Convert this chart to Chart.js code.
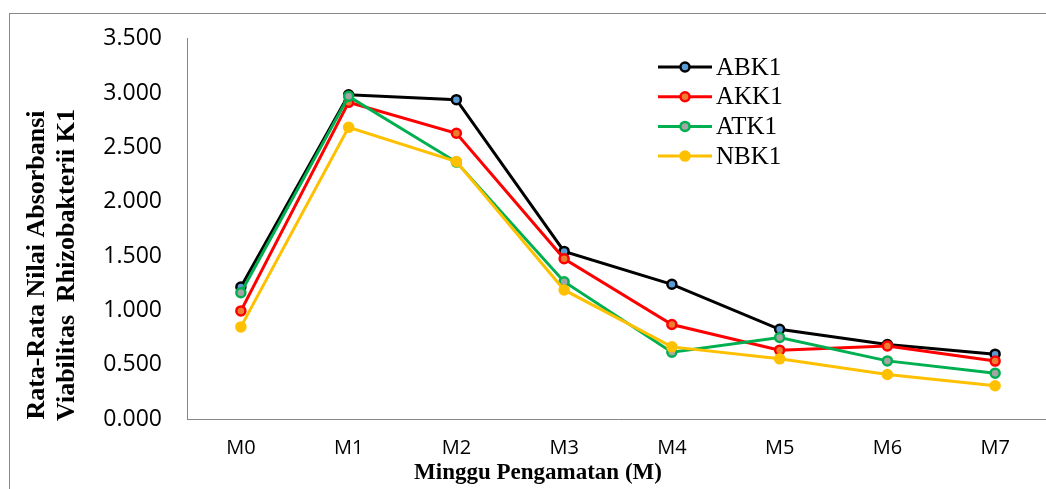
<!DOCTYPE html>
<html>
<head>
<meta charset="utf-8">
<script src="https://cdn.jsdelivr.net/npm/chart.js@4"></script>
<style>
  html, body { margin: 0; padding: 0; background: #fff; overflow: hidden; }
  #wrap { width: 1046px; height: 489px; overflow: hidden; }
</style>
</head>
<body>
<div id="wrap"><canvas id="myChart" width="1060" height="489"></canvas></div>
<script>
// Data
const categories = ["M0", "M1", "M2", "M3", "M4", "M5", "M6", "M7"];
const abk1 = [1.215, 2.985, 2.94, 1.543, 1.24, 0.826, 0.686, 0.597];
const akk1 = [0.995, 2.915, 2.63, 1.475, 0.87, 0.634, 0.673, 0.533];
const atk1 = [1.163, 2.97, 2.365, 1.264, 0.615, 0.75, 0.535, 0.422];
const nbk1 = [0.848, 2.685, 2.37, 1.188, 0.664, 0.554, 0.41, 0.306];
const seriesNames = ["ABK1", "AKK1", "ATK1", "NBK1"];
const yTicks = [0, 0.5, 1, 1.5, 2, 2.5, 3, 3.5];

const axisGray = "#868686";

function makeDataset(label, data, line, fill, order) {
  return {
    label: label,
    data: data,
    borderColor: line,
    backgroundColor: fill,
    pointBackgroundColor: fill,
    pointBorderColor: line,
    borderWidth: 3,
    pointRadius: 4.5,
    pointBorderWidth: 2.5,
    tension: 0,
    order: order,
  };
}

// Frame luar
const framePlugin = {
  id: "frame",
  beforeDraw(chart) {
    const ctx = chart.ctx;
    ctx.save();
    ctx.strokeStyle = "#898989";
    ctx.lineWidth = 1;
    ctx.strokeRect(9.5, 13.5, 2000, 2000);
    ctx.restore();
  },
};

// Judul sumbu dan legenda
const labelPlugin = {
  id: "labels",
  afterDraw(chart) {
    const ctx = chart.ctx;
    ctx.save();
    ctx.fillStyle = "#000";
    // judul sumbu Y (dua baris)
    ctx.font = "bold 26px 'Liberation Serif'";
    ctx.textAlign = "center";
    ctx.textBaseline = "middle";
    ctx.save();
    ctx.translate(37, 265);
    ctx.rotate(-Math.PI / 2);
    ctx.fillText("Rata-Rata Nilai Absorbansi", 0, 0);
    ctx.restore();
    ctx.save();
    ctx.translate(67, 265);
    ctx.rotate(-Math.PI / 2);
    ctx.fillText("Viabilitas  Rhizobakterii K1", 0, 0);
    ctx.restore();
    // judul sumbu X
    ctx.font = "bold 23px 'Liberation Serif'";
    ctx.textBaseline = "alphabetic";
    ctx.fillText("Minggu Pengamatan (M)", 538, 479);
    // legenda
    ctx.font = "25px 'Liberation Serif'";
    ctx.textAlign = "left";
    ctx.textBaseline = "middle";
    chart.data.datasets.forEach((ds, i) => {
      const y = 67 + i * 29.7;
      ctx.strokeStyle = ds.borderColor;
      ctx.lineWidth = 3;
      ctx.beginPath();
      ctx.moveTo(658, y);
      ctx.lineTo(712, y);
      ctx.stroke();
      ctx.beginPath();
      ctx.arc(685, y, 4.5, 0, Math.PI * 2);
      ctx.fillStyle = ds.pointBackgroundColor;
      ctx.fill();
      ctx.lineWidth = 2.5;
      ctx.stroke();
      ctx.fillStyle = "#000";
      ctx.fillText(ds.label, 716, y + 1);
    });
    ctx.restore();
  },
};

new Chart(document.getElementById("myChart").getContext("2d"), {
  type: "line",
  data: {
    labels: categories,
    datasets: [
      makeDataset(seriesNames[0], abk1, "#000000", "#5B9BD5", 4),
      makeDataset(seriesNames[1], akk1, "#FF0000", "#ED7D31", 3),
      makeDataset(seriesNames[2], atk1, "#00B050", "#A5A5A5", 2),
      makeDataset(seriesNames[3], nbk1, "#FFC000", "#FFC000", 1),
    ],
  },
  options: {
    responsive: false,
    animation: false,
    layout: { padding: { top: 37, right: 11, bottom: 0, left: 0 } },
    plugins: { legend: { display: false }, tooltip: { enabled: false } },
    scales: {
      x: {
        offset: true,
        grid: { display: false, drawTicks: false },
        border: { display: true, color: axisGray, width: 1 },
        ticks: {
          color: "#000",
          font: { family: "'Open Sans'", size: 20 },
          padding: 17,
        },
        afterFit(scale) { scale.height = 70; },
      },
      y: {
        min: 0,
        max: 3.5,
        grid: { display: false, drawTicks: false },
        border: { display: true, color: axisGray, width: 1 },
        afterBuildTicks(scale) {
          scale.ticks = yTicks.map((v) => ({ value: v }));
        },
        ticks: {
          color: "#000",
          font: { family: "'Open Sans'", size: 23 },
          padding: 25,
          callback: (v) => v.toFixed(3),
        },
        afterFit(scale) { scale.width = 187; },
      },
    },
  },
  plugins: [framePlugin, labelPlugin],
});
</script>
</body>
</html>
